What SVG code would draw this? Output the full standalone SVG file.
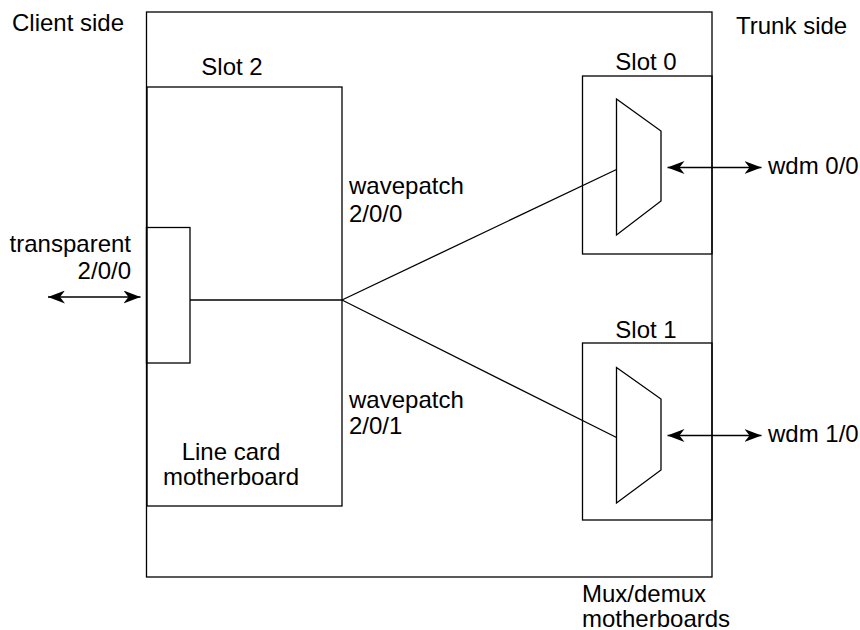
<svg xmlns="http://www.w3.org/2000/svg" width="860" height="630" viewBox="0 0 860 630">
<style>
.box{fill:none;stroke:#000;stroke-width:1.3}
.ln{fill:none;stroke:#000;stroke-width:1.3}
.ar{fill:none;stroke:#000;stroke-width:1.5;marker-start:url(#ah);marker-end:url(#ah)}
text{font-family:"Liberation Sans",Arial,sans-serif;font-size:24px;fill:#000}
.m{text-anchor:middle}
.e{text-anchor:end}
</style>
<defs>
<marker id="ah" viewBox="0 0 17 13" refX="17" refY="6.5" markerWidth="17" markerHeight="13" markerUnits="userSpaceOnUse" orient="auto-start-reverse">
<path d="M0,0 L17,6.5 L0,13 L5,6.5 z" fill="#000"/>
</marker>
</defs>
<rect width="860" height="630" fill="#fff"/>
<text x="12" y="30.5">Client side</text>
<text x="736" y="34">Trunk side</text>
<g id="chassis">
<rect class="box" x="146.5" y="12" width="565.5" height="565"/>
<text x="582" y="601.5">Mux/demux</text>
<text x="582" y="626.5">motherboards</text>
</g>
<g id="slot2">
<rect class="box" x="147" y="87" width="195" height="419"/>
<text class="m" x="232" y="75">Slot 2</text>
<text class="m" x="231" y="460">Line card</text>
<text class="m" x="231" y="485">motherboard</text>
</g>
<g id="transparent">
<rect class="box" x="146.5" y="227.5" width="43.5" height="135.5"/>
<text class="e" x="131" y="252">transparent</text>
<text class="e" x="131" y="278.5">2/0/0</text>
</g>
<g id="slot0">
<rect class="box" x="582.5" y="76" width="129.5" height="178"/>
<polygon class="box" points="616.5,99 661,131 661,201 616.5,235"/>
<text class="m" x="646" y="70">Slot 0</text>
</g>
<g id="slot1">
<rect class="box" x="582.5" y="343" width="129.5" height="177"/>
<polygon class="box" points="616.5,367.5 661,399 661,470 616.5,503"/>
<text class="m" x="646" y="337.5">Slot 1</text>
</g>
<g id="connectors">
<line class="ln" x1="190" y1="300" x2="342" y2="300"/>
<line class="ln" x1="342" y1="300" x2="616.5" y2="169.5"/>
<line class="ln" x1="342" y1="300" x2="616.5" y2="437.5"/>
<line class="ar" x1="48" y1="297" x2="140.5" y2="297"/>
<line class="ar" x1="667.5" y1="167.5" x2="761.5" y2="167.5"/>
<line class="ar" x1="667.5" y1="435.5" x2="761.5" y2="435.5"/>
</g>
<text x="349" y="194">wavepatch</text>
<text x="349" y="221.5">2/0/0</text>
<text x="349" y="408">wavepatch</text>
<text x="349" y="433.5">2/0/1</text>
<text x="768" y="173.5">wdm 0/0</text>
<text x="768" y="441.5">wdm 1/0</text>
</svg>
